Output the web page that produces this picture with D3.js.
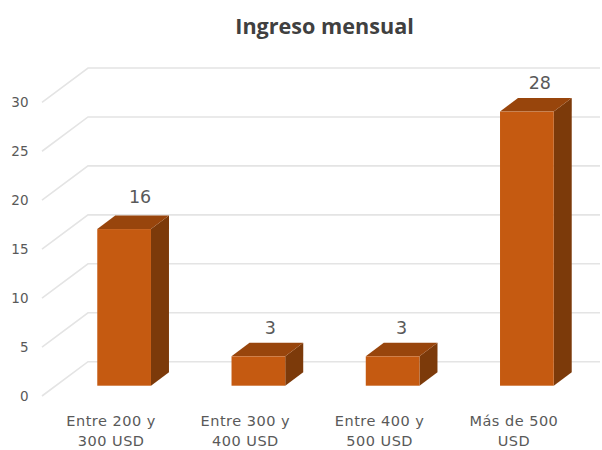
<!DOCTYPE html>
<html>
<head>
<meta charset="utf-8">
<script src="https://cdn.jsdelivr.net/npm/d3@7/dist/d3.min.js"></script>
<style>
html,body{margin:0;padding:0;background:#fff;overflow:hidden;}
svg{display:block;}
text{font-family:"DejaVu Sans",sans-serif;fill:#595959;}
</style>
</head>
<body>
<svg id="c" width="602" height="450"></svg>
<script>
const chartTitle = "Ingreso mensual";
const categories = [["Entre 200 y","300 USD"],["Entre 300 y","400 USD"],["Entre 400 y","500 USD"],["Más de 500","USD"]];
const values = [16, 3, 3, 28];
const yTicks = [0, 5, 10, 15, 20, 25, 30];
// Layout nudges of the data labels relative to each bar, in pixels
const labelDx = [16, 12, 9, 13];
const labelDy = [19, 15, 15, 15];

const svg = d3.select("#c");
// Back wall scale for the gridlines
const y = d3.scaleLinear().domain([0, 30]).range([361.7, 68]);
const x = d3.scaleBand().domain(d3.range(categories.length)).range([57, 594]).paddingInner(0.6).paddingOuter(0.3);
const h0 = y(0);
// Oblique projection offsets
const wallDx = 46, wallDy = 34.3;
const barDx = 18, barDy = 13.5;
const floorY = 385.7;
const backLeft = 88, backRight = 600;

svg.append("text").attr("x", 324.5).attr("y", 34).attr("text-anchor", "middle")
  .style("font-family", '"Open Sans",sans-serif')
  .style("font-size", "21.6px").style("font-weight", 700).style("fill", "#404040").text(chartTitle);

// Gridlines
const grid = svg.append("g").attr("fill", "none").attr("stroke", "#e4e4e4").attr("stroke-width", 1.6);
yTicks.forEach(t => {
  const yy = y(t);
  grid.append("path").attr("d", `M${backLeft - wallDx},${yy + wallDy}L${backLeft},${yy}L${backRight},${yy}`);
});

// Y axis labels
svg.append("g").selectAll("text").data(yTicks).join("text")
  .attr("x", 28.5).attr("y", d => y(d) + wallDy).attr("dy", "0.36em")
  .attr("text-anchor", "end").style("font-size", "13.5px").text(d => d);

// Bars
const bars = svg.append("g").selectAll("g").data(values).join("g");
const barTop = v => floorY - (h0 - y(v));
bars.append("path").attr("fill", "#7c3a0a").attr("d", (d, i) => {
  const r = x(i) + x.bandwidth(), t = barTop(d);
  return `M${r},${floorY}L${r + barDx},${floorY - barDy}L${r + barDx},${t - barDy}L${r},${t}Z`;
});
bars.append("path").attr("fill", "#98450c").attr("d", (d, i) => {
  const l = x(i), r = l + x.bandwidth(), t = barTop(d);
  return `M${l},${t}L${l + barDx},${t - barDy}L${r + barDx},${t - barDy}L${r},${t}Z`;
});
bars.append("rect").attr("fill", "#c55a11")
  .attr("x", (d, i) => x(i)).attr("width", x.bandwidth())
  .attr("y", d => barTop(d)).attr("height", d => floorY - barTop(d));

// Data labels
svg.append("g").selectAll("text").data(values).join("text")
  .attr("x", (d, i) => x(i) + x.bandwidth() / 2 + labelDx[i])
  .attr("y", (d, i) => barTop(d) - barDy - labelDy[i]).attr("dy", "0.36em").attr("text-anchor", "middle")
  .style("font-size", "17.5px").text(d => d);

// Category labels
const cats = svg.append("g").selectAll("text").data(categories).join("text")
  .attr("text-anchor", "middle").style("font-size", "14.5px").style("letter-spacing", "0.5px");
cats.selectAll("tspan").data((d, i) => d.map(s => ({s, i}))).join("tspan")
  .attr("x", d => x(d.i) + x.bandwidth() / 2 - 13)
  .attr("y", (d, j) => 425.5 + j * 20.5).text(d => d.s);
</script>
</body>
</html>
